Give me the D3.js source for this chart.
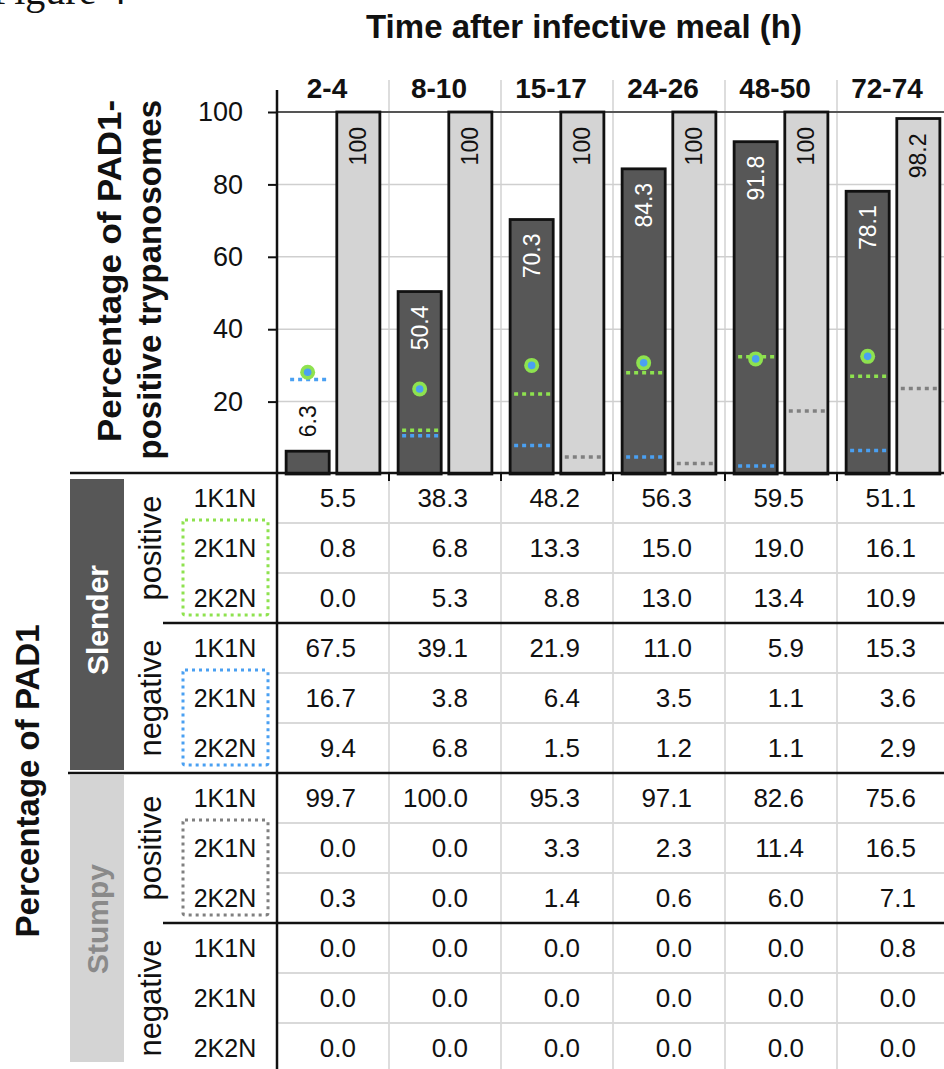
<!DOCTYPE html>
<html>
<head>
<meta charset="utf-8">
<script src="https://cdn.jsdelivr.net/npm/d3@7"></script>
<style>
body { margin: 0; background: #fff; }
text { font-family: "Liberation Sans", Arial, Helvetica, sans-serif; fill: #111; }
</style>
</head>
<body>
<svg id="chart" width="944" height="1069"></svg>
<script>
// time points (h after infective meal)
const times = ["2-4", "8-10", "15-17", "24-26", "48-50", "72-74"];

// % PAD1-positive, bars
const pad1Slender = [6.3, 50.4, 70.3, 84.3, 91.8, 78.1];
const pad1Stumpy = [100, 100, 100, 100, 100, 98.2];
// green/blue markers
const dotValues = [28.1, 23.5, 30.0, 30.7, 31.8, 32.5];

// table, % of PAD1
const slenderPos1K1N = [5.5, 38.3, 48.2, 56.3, 59.5, 51.1];
const slenderPos2K1N = [0.8, 6.8, 13.3, 15.0, 19.0, 16.1];
const slenderPos2K2N = [0.0, 5.3, 8.8, 13.0, 13.4, 10.9];
const slenderNeg1K1N = [67.5, 39.1, 21.9, 11.0, 5.9, 15.3];
const slenderNeg2K1N = [16.7, 3.8, 6.4, 3.5, 1.1, 3.6];
const slenderNeg2K2N = [9.4, 6.8, 1.5, 1.2, 1.1, 2.9];
const stumpyPos1K1N = [99.7, 100.0, 95.3, 97.1, 82.6, 75.6];
const stumpyPos2K1N = [0.0, 0.0, 3.3, 2.3, 11.4, 16.5];
const stumpyPos2K2N = [0.3, 0.0, 1.4, 0.6, 6.0, 7.1];
const stumpyNeg1K1N = [0.0, 0.0, 0.0, 0.0, 0.0, 0.8];
const stumpyNeg2K1N = [0.0, 0.0, 0.0, 0.0, 0.0, 0.0];
const stumpyNeg2K2N = [0.0, 0.0, 0.0, 0.0, 0.0, 0.0];

const stages = ["1K1N", "2K1N", "2K2N"];
const yTicks = [20, 40, 60, 80, 100];

const tableRows = [
    slenderPos1K1N, slenderPos2K1N, slenderPos2K2N,
    slenderNeg1K1N, slenderNeg2K1N, slenderNeg2K2N,
    stumpyPos1K1N, stumpyPos2K1N, stumpyPos2K2N,
    stumpyNeg1K1N, stumpyNeg2K1N, stumpyNeg2K2N
];

// dividing (2K) fractions shown as dotted lines
const sum2K = (a, b) => a.map((v, i) => v + b[i]);
const greenLine = sum2K(slenderPos2K1N, slenderPos2K2N);
const blueLine = sum2K(slenderNeg2K1N, slenderNeg2K2N);
const greyLine = sum2K(stumpyPos2K1N, stumpyPos2K2N);

const GREEN = "#8ee24f", BLUE = "#4aa0f2", GREY = "#808080";

const svg = d3.select("#chart");

const x = d3.scaleBand().domain(times).range([277, 949]);
const inner = d3.scaleBand().domain(["slender", "stumpy"])
    .range([0, x.bandwidth()]).paddingInner(0.15).paddingOuter(0.18);
const y = d3.scaleLinear().domain([0, 100]).range([474, 112]);
const row = d3.scaleBand().domain(d3.range(12)).range([473, 1073]);

// "Figure 4" (cut at top)
svg.append("text").attr("x", -8).attr("y", 4)
    .style("font-family", "'Liberation Serif', 'Times New Roman', serif")
    .style("font-size", "40px").text("Figure 4");

svg.append("text").attr("x", 584).attr("y", 38)
    .attr("text-anchor", "middle")
    .style("font-size", "33px").style("font-weight", "bold")
    .text("Time after infective meal (h)");

// column dividers
svg.append("g").selectAll("line")
    .data(times.slice(1))
    .join("line")
    .attr("x1", d => x(d)).attr("x2", d => x(d))
    .attr("y1", 80).attr("y2", 1069)
    .attr("stroke", "#d2d2d2").attr("stroke-width", 1.5);

// grid
svg.append("g").selectAll("line")
    .data([20, 40, 60, 80])
    .join("line")
    .attr("x1", 277).attr("x2", 944)
    .attr("y1", d => y(d)).attr("y2", d => y(d))
    .attr("stroke", "#cfcfcf").attr("stroke-width", 1.5);
svg.append("line").attr("x1", 277).attr("x2", 944)
    .attr("y1", y(100)).attr("y2", y(100))
    .attr("stroke", "#555").attr("stroke-width", 2);

// column headers
svg.append("g").selectAll("text")
    .data(times)
    .join("text")
    .attr("x", d => x(d) + x.bandwidth() / 2 - 6)
    .attr("y", 98)
    .attr("text-anchor", "middle")
    .style("font-size", "28px").style("font-weight", "bold")
    .text(d => d);

// y axis
const yAxis = svg.append("g").attr("transform", "translate(277,0)")
    .call(d3.axisLeft(y).tickValues(yTicks).tickSize(9).tickPadding(25));
yAxis.select(".domain").remove();
yAxis.selectAll(".tick line").attr("stroke", "#111").attr("stroke-width", 2);
yAxis.selectAll(".tick text").style("font-size", "27px")
    .style("font-family", "'Liberation Sans', Arial, sans-serif").attr("fill", "#111");

const ytitle = svg.append("g");
ytitle.append("text").attr("transform", "translate(121,100) rotate(-90)")
    .attr("text-anchor", "end")
    .attr("textLength", 342).attr("lengthAdjust", "spacingAndGlyphs")
    .style("font-size", "33px").style("font-weight", "bold")
    .text("Percentage of PAD1-");
ytitle.append("text").attr("transform", "translate(161,100) rotate(-90)")
    .attr("text-anchor", "end")
    .style("font-size", "33px").style("font-weight", "bold")
    .text("positive trypanosomes");

// bars
const cols = svg.append("g").selectAll("g")
    .data(times)
    .join("g")
    .attr("transform", d => `translate(${x(d)},0)`);

cols.append("rect")
    .attr("x", inner("slender")).attr("width", inner.bandwidth())
    .attr("y", (d, i) => y(pad1Slender[i]))
    .attr("height", (d, i) => y(0) - y(pad1Slender[i]))
    .attr("fill", "#575757").attr("stroke", "#111").attr("stroke-width", 2.8);
cols.append("rect")
    .attr("x", inner("stumpy")).attr("width", inner.bandwidth())
    .attr("y", (d, i) => y(pad1Stumpy[i]))
    .attr("height", (d, i) => y(0) - y(pad1Stumpy[i]))
    .attr("fill", "#d4d4d4").attr("stroke", "#111").attr("stroke-width", 2.8);

// bar value labels
cols.append("text")
    .attr("transform", (d, i) => {
        const cx = inner("slender") + inner.bandwidth() / 2;
        return `translate(${cx},${y(pad1Slender[i])}) rotate(-90)`;
    })
    .attr("x", (d, i) => pad1Slender[i] < 15 ? 14 : -14)
    .attr("dy", "0.35em")
    .attr("text-anchor", (d, i) => pad1Slender[i] < 15 ? "start" : "end")
    .style("font-size", "23px")
    .style("fill", (d, i) => pad1Slender[i] < 15 ? "#111" : "#fff")
    .text((d, i) => pad1Slender[i]);
cols.append("text")
    .attr("transform", (d, i) => {
        const cx = inner("stumpy") + inner.bandwidth() / 2;
        return `translate(${cx},${y(pad1Stumpy[i])}) rotate(-90)`;
    })
    .attr("x", -15)
    .attr("dy", "0.35em")
    .attr("text-anchor", "end")
    .style("font-size", "23px")
    .text((d, i) => pad1Stumpy[i]);

// dotted lines
function dotted(vals, key, color) {
    cols.filter((d, i) => vals[i] >= 1).append("line")
        .attr("x1", inner(key) + 4).attr("x2", inner(key) + inner.bandwidth() - 3)
        .attr("y1", (d) => y(vals[times.indexOf(d)]))
        .attr("y2", (d) => y(vals[times.indexOf(d)]))
        .attr("stroke", color).attr("stroke-width", 3.5)
        .attr("stroke-dasharray", "4,4");
}
dotted(greenLine, "slender", GREEN);
dotted(blueLine, "slender", BLUE);
dotted(greyLine, "stumpy", GREY);

// markers
cols.append("circle")
    .attr("cx", inner("slender") + inner.bandwidth() / 2)
    .attr("cy", (d, i) => y(dotValues[i]))
    .attr("r", 7.5).attr("fill", GREEN);
cols.append("circle")
    .attr("cx", inner("slender") + inner.bandwidth() / 2)
    .attr("cy", (d, i) => y(dotValues[i]))
    .attr("r", 3.8).attr("fill", BLUE);

// x axis ticks
svg.append("g").selectAll("line")
    .data(times)
    .join("line")
    .attr("x1", d => x(d)).attr("x2", d => x(d))
    .attr("y1", 473).attr("y2", 481)
    .attr("stroke", "#111").attr("stroke-width", 2);

// ---- table ----
svg.append("rect").attr("x", 70).attr("y", 479).attr("width", 54).attr("height", 291)
    .attr("fill", "#575757");
svg.append("rect").attr("x", 70).attr("y", 775).attr("width", 54).attr("height", 287)
    .attr("fill", "#d4d4d4");
svg.append("text").attr("transform", "translate(97,620) rotate(-90)")
    .attr("text-anchor", "middle").attr("dy", "0.35em")
    .style("font-size", "30px").style("font-weight", "bold").style("fill", "#fff")
    .text("Slender");
svg.append("text").attr("transform", "translate(97,919) rotate(-90)")
    .attr("text-anchor", "middle").attr("dy", "0.35em")
    .style("font-size", "30px").style("font-weight", "bold").style("fill", "#8a8a8a")
    .text("Stumpy");

svg.append("text").attr("transform", "translate(39,781) rotate(-90)")
    .attr("text-anchor", "middle")
    .style("font-size", "33px").style("font-weight", "bold")
    .text("Percentage of PAD1");

// positive / negative
["positive", "negative", "positive", "negative"].forEach((lab, g) => {
    const cy = row(g * 3) + row.bandwidth() * 1.5;
    svg.append("text").attr("transform", `translate(150,${cy}) rotate(-90)`)
        .attr("text-anchor", "middle").attr("dy", "0.35em")
        .style("font-size", "31px").text(lab);
});

// row grid lines
svg.append("g").selectAll("line")
    .data(d3.range(12).filter(r => r % 3 !== 0))
    .join("line")
    .attr("x1", 277).attr("x2", 944)
    .attr("y1", r => row(r)).attr("y2", r => row(r))
    .attr("stroke", "#d9d9d9").attr("stroke-width", 2);

// dotted legend boxes
[[1, GREEN], [4, BLUE], [7, GREY]].forEach(([r, c]) => {
    svg.append("rect").attr("x", 183).attr("y", row(r) - 3)
        .attr("width", 85).attr("height", row.bandwidth() * 2 - 5)
        .attr("fill", "none").attr("stroke", c).attr("stroke-width", 3)
        .attr("stroke-dasharray", "3,4").attr("rx", 2);
});

// row labels + values
d3.range(12).forEach(r => {
    const cy = row(r) + row.bandwidth() / 2;
    svg.append("text").attr("x", 225).attr("y", cy).attr("dy", "0.36em")
        .attr("text-anchor", "middle").style("font-size", "25px")
        .text(stages[r % 3]);
    svg.append("g").selectAll("text")
        .data(tableRows[r])
        .join("text")
        .attr("x", (d, i) => x(times[i]) + x.bandwidth() - 33)
        .attr("y", cy).attr("dy", "0.36em")
        .attr("text-anchor", "end").style("font-size", "26px")
        .text(d => d.toFixed(1));
});

// black separators
svg.append("line").attr("x1", 70).attr("x2", 944).attr("y1", 473).attr("y2", 473)
    .attr("stroke", "#111").attr("stroke-width", 2.5);
svg.append("line").attr("x1", 163).attr("x2", 944).attr("y1", row(3)).attr("y2", row(3))
    .attr("stroke", "#111").attr("stroke-width", 2.5);
svg.append("line").attr("x1", 68).attr("x2", 944).attr("y1", row(6)).attr("y2", row(6))
    .attr("stroke", "#111").attr("stroke-width", 2.5);
svg.append("line").attr("x1", 163).attr("x2", 944).attr("y1", row(9)).attr("y2", row(9))
    .attr("stroke", "#111").attr("stroke-width", 2.5);

// main vertical axis line
svg.append("line").attr("x1", 277).attr("x2", 277).attr("y1", 90).attr("y2", 1069)
    .attr("stroke", "#111").attr("stroke-width", 2.5);
</script>
</body>
</html>
